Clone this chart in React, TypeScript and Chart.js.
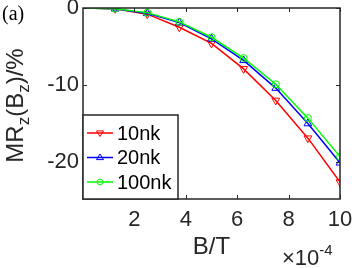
import React, { useEffect, useRef } from 'react';
import { Chart, registerables } from 'chart.js';

Chart.register(...registerables);

// ---- data ----
const xValues = [0, 1.25, 2.5, 3.75, 5, 6.25, 7.5, 8.75, 10];
const series10nk = [0, -0.1, -0.8, -2.5, -4.6, -7.9, -12.0, -16.9, -22.6];
const series20nk = [0, -0.1, -0.7, -1.9, -4.0, -6.8, -10.4, -15.0, -20.1];
const series100nk = [0, -0.1, -0.6, -1.8, -3.8, -6.5, -9.9, -14.3, -19.3];
const seriesLabels = ['10nk', '20nk', '100nk'];
const seriesColors = ['#ff0000', '#0000ff', '#00ff00'];
const xTicks = [2, 4, 6, 8, 10];
const yTicks = [-20, -10, 0];
const xMin = 0;
const xMax = 10;
const yMin = -24.8;
const yMax = 0;

const AXIS = '#262626';
const SANS = '"Liberation Sans", Arial, Helvetica, sans-serif';
const SERIF = '"Liberation Serif", "Times New Roman", serif';
const TICK_FONT = 22;
const LABEL_FONT = 24;
const LEGEND_FONT = 20;

type Part = { t: string; sub?: boolean; sup?: boolean };

function drawRich(ctx: CanvasRenderingContext2D, parts: Part[], size: number, x: number, y: number, align: 'center' | 'left') {
  const small = Math.round(size * 0.7);
  const widths = parts.map((p) => {
    ctx.font = `${p.sub || p.sup ? small : size}px ${SANS}`;
    return ctx.measureText(p.t).width;
  });
  const total = widths.reduce((a, b) => a + b, 0);
  let cx = align === 'center' ? x - total / 2 : x;
  ctx.textAlign = 'left';
  ctx.textBaseline = 'alphabetic';
  parts.forEach((p, i) => {
    ctx.font = `${p.sub || p.sup ? small : size}px ${SANS}`;
    const dy = p.sub ? size * 0.25 : p.sup ? -size * 0.45 : 0;
    ctx.fillText(p.t, cx, y + dy);
    cx += widths[i];
  });
}

function drawMarker(ctx: CanvasRenderingContext2D, kind: number, x: number, y: number, r: number, color: string) {
  ctx.save();
  ctx.strokeStyle = color;
  ctx.lineWidth = 1;
  ctx.beginPath();
  if (kind === 0) {
    ctx.moveTo(x - r, y - r * 0.6);
    ctx.lineTo(x + r, y - r * 0.6);
    ctx.lineTo(x, y + r);
    ctx.closePath();
  } else if (kind === 1) {
    ctx.moveTo(x - r, y + r * 0.6);
    ctx.lineTo(x + r, y + r * 0.6);
    ctx.lineTo(x, y - r);
    ctx.closePath();
  } else {
    ctx.arc(x, y, r * 0.8, 0, Math.PI * 2);
  }
  ctx.stroke();
  ctx.restore();
}

const decorPlugin = {
  id: 'decor',
  afterDatasetsDraw(chart: any) {
    const ctx: CanvasRenderingContext2D = chart.ctx;
    const { left, right, top, bottom } = chart.chartArea;
    const xs = chart.scales.x;
    const ys = chart.scales.y;
    ctx.save();
    // frame
    ctx.strokeStyle = AXIS;
    ctx.lineWidth = 1.5;
    ctx.strokeRect(left, top, right - left, bottom - top);
    // inward ticks
    const tl = 4;
    ctx.lineWidth = 1;
    ctx.beginPath();
    xTicks.forEach((v) => {
      const px = Math.round(xs.getPixelForValue(v)) + 0.5;
      ctx.moveTo(px, bottom);
      ctx.lineTo(px, bottom - tl);
      ctx.moveTo(px, top);
      ctx.lineTo(px, top + tl);
    });
    yTicks.forEach((v) => {
      const py = Math.round(ys.getPixelForValue(v)) + 0.5;
      ctx.moveTo(left, py);
      ctx.lineTo(left + tl, py);
      ctx.moveTo(right, py);
      ctx.lineTo(right - tl, py);
    });
    ctx.stroke();

    // legend
    const lx0 = left;
    const lx1 = left + 95;
    const ly0 = bottom - 84;
    const ly1 = bottom;
    ctx.fillStyle = '#ffffff';
    ctx.fillRect(lx0, ly0, lx1 - lx0, ly1 - ly0);
    ctx.strokeStyle = AXIS;
    ctx.lineWidth = 1.5;
    ctx.strokeRect(lx0, ly0, lx1 - lx0, ly1 - ly0);
    seriesLabels.forEach((lab, i) => {
      const yy = ly0 + 18 + i * 24.5;
      ctx.strokeStyle = seriesColors[i];
      ctx.lineWidth = 1.5;
      ctx.beginPath();
      ctx.moveTo(lx0 + 4, yy);
      ctx.lineTo(lx0 + 30, yy);
      ctx.stroke();
      drawMarker(ctx, i, lx0 + 17, yy, 3.5, seriesColors[i]);
      ctx.fillStyle = '#000000';
      ctx.font = `${LEGEND_FONT}px ${SANS}`;
      ctx.textAlign = 'left';
      ctx.textBaseline = 'middle';
      ctx.fillText(lab, lx0 + 34, yy + 1);
    });

    // axis labels
    ctx.fillStyle = AXIS;
    drawRich(ctx, [{ t: 'B/T' }], LABEL_FONT, (left + right) / 2, 254, 'center');
    drawRich(ctx, [{ t: '\u00d710' }, { t: '-4', sup: true }], TICK_FONT, 282, 265, 'left');

    ctx.save();
    ctx.translate(23, (top + bottom) / 2 + 2);
    ctx.rotate(-Math.PI / 2);
    drawRich(ctx, [{ t: 'MR' }, { t: 'z', sub: true }, { t: '(B' }, { t: 'z', sub: true }, { t: ')/%' }], LABEL_FONT, 0, 0, 'center');
    ctx.restore();

    // panel tag
    ctx.fillStyle = '#000000';
    ctx.font = `20px ${SERIF}`;
    ctx.textAlign = 'left';
    ctx.textBaseline = 'alphabetic';
    ctx.fillText('(a)', 2, 20);
    ctx.restore();
  },
};

export default function App() {
  const ref = useRef<HTMLCanvasElement | null>(null);
  useEffect(() => {
    if (!ref.current) return;
    const datasets = [series10nk, series20nk, series100nk].map((vals, i) => ({
      label: seriesLabels[i],
      data: xValues.map((x, j) => ({ x, y: vals[j] })),
      borderColor: seriesColors[i],
      backgroundColor: 'rgba(0,0,0,0)',
      borderWidth: 1.5,
      pointStyle: i === 2 ? 'circle' : 'triangle',
      rotation: i === 0 ? 180 : 0,
      pointRadius: xValues.map((x) => (x === 0 ? 0 : i === 2 ? 3.5 : 4.5)),
      pointBorderWidth: 1,
      pointBorderColor: seriesColors[i],
      pointBackgroundColor: 'rgba(0,0,0,0)',
      tension: 0,
      order: 2 - i,
    }));
    const chart = new Chart(ref.current, {
      type: 'line',
      data: { datasets },
      plugins: [decorPlugin],
      options: {
        animation: false,
        responsive: false,
        layout: { padding: { top: 8, right: 14, left: 0, bottom: 0 } },
        plugins: { legend: { display: false }, tooltip: { enabled: false } },
        scales: {
          x: {
            type: 'linear',
            min: xMin,
            max: xMax,
            grid: { display: false, drawTicks: false },
            border: { display: false },
            afterBuildTicks: (s: any) => {
              s.ticks = xTicks.map((v) => ({ value: v }));
            },
            afterFit: (s: any) => {
              s.height = 69;
              s.paddingLeft = 0;
              s.paddingRight = 0;
            },
            ticks: {
              padding: 8,
              maxRotation: 0,
              autoSkip: false,
              color: AXIS,
              font: { family: SANS, size: TICK_FONT },
              callback: (v: any) => String(v),
            },
          },
          y: {
            type: 'linear',
            min: yMin,
            max: yMax,
            grid: { display: false, drawTicks: false },
            border: { display: false },
            afterBuildTicks: (s: any) => {
              s.ticks = yTicks.map((v) => ({ value: v }));
            },
            afterFit: (s: any) => {
              s.width = 83;
              s.paddingTop = 0;
              s.paddingBottom = 0;
            },
            ticks: {
              padding: 4,
              autoSkip: false,
              color: AXIS,
              font: { family: SANS, size: TICK_FONT },
              callback: (v: any) => String(v),
            },
          },
        },
      },
    } as any);
    return () => chart.destroy();
  }, []);
  return (
    <div style={{ position: 'absolute', left: 0, top: 0, width: 354, height: 268 }}>
      <canvas ref={ref} width={354} height={268} style={{ display: 'block' }} />
    </div>
  );
}
